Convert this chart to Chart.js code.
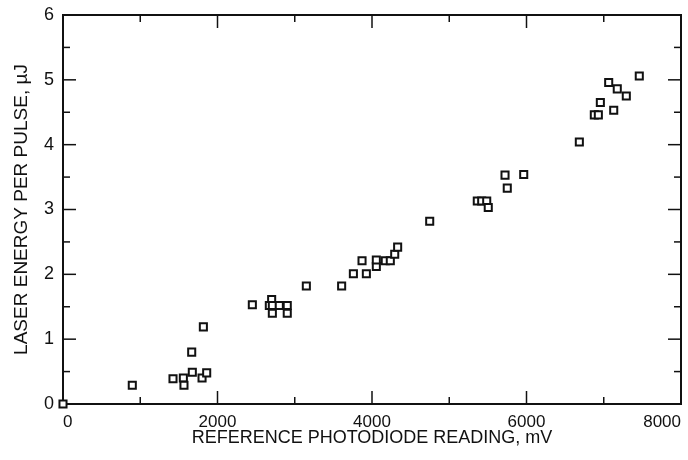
<!DOCTYPE html>
<html>
<head>
<meta charset="utf-8">
<script src="https://cdn.jsdelivr.net/npm/chart.js@4/dist/chart.umd.min.js"></script>
<style>
  html, body { margin: 0; padding: 0; background: #fff; }
  #wrap { width: 688px; height: 460px; position: relative; }
</style>
</head>
<body>
<div id="wrap"><canvas id="c" width="688" height="460"></canvas></div>
<script>
// ---- data ----
const xValues = [0, 897, 1424, 1558, 1566, 1666, 1674, 1800, 1817, 1860,
  2451, 2701, 2671, 2710, 2800, 2903, 2710, 2903,
  3150, 3607, 3759, 3871, 3927, 4056, 4056, 4172, 4237, 4294, 4332,
  4747, 5363, 5420, 5485, 5505, 5722, 5751, 5964,
  6684, 6878, 6930, 6956, 7129, 7064, 7175, 7292, 7460];
const yValues = [0, 0.29, 0.39, 0.40, 0.29, 0.80, 0.49, 0.40, 1.19, 0.48,
  1.53, 1.61, 1.52, 1.52, 1.52, 1.52, 1.40, 1.40,
  1.82, 1.82, 2.01, 2.21, 2.01, 2.12, 2.22, 2.21, 2.21, 2.31, 2.42,
  2.82, 3.13, 3.13, 3.13, 3.03, 3.53, 3.33, 3.54,
  4.04, 4.46, 4.46, 4.65, 4.53, 4.96, 4.86, 4.75, 5.06];
const xTickLabels = [0, 2000, 4000, 6000, 8000];
const yTickLabels = [0, 1, 2, 3, 4, 5, 6];
const xTitle = 'REFERENCE PHOTODIODE READING, mV';
const yTitle = 'LASER ENERGY PER PULSE, \u00B5J';

const INK = '#111';
const FONT = "'Liberation Sans', Arial, Helvetica, sans-serif";

const points = xValues.map((x, i) => ({ x: x, y: yValues[i] }));

const xMajor = xTickLabels[1] - xTickLabels[0];
const yMajor = yTickLabels[1] - yTickLabels[0];

const framePlugin = {
  id: 'frame',
  beforeDatasetsDraw(chart) {
    const { ctx, chartArea, scales } = chart;
    const { left, right, top, bottom } = chartArea;
    const xs = scales.x, ys = scales.y;
    ctx.save();
    ctx.strokeStyle = INK;
    ctx.lineWidth = 2;
    ctx.strokeRect(left, top, right - left, bottom - top);
    ctx.lineWidth = 1.5;
    const line = (a, b, c, d) => { ctx.beginPath(); ctx.moveTo(a, b); ctx.lineTo(c, d); ctx.stroke(); };
    const xMin = xTickLabels[0], xMax = xTickLabels[xTickLabels.length - 1];
    for (let v = xMin + xMajor / 2; v < xMax; v += xMajor / 2) {
      const px = xs.getPixelForValue(v);
      const len = (Math.abs(v % xMajor) < 1e-6) ? 13 : 7;
      line(px, bottom, px, bottom - len);
      line(px, top, px, top + len);
    }
    const yMin = yTickLabels[0], yMax = yTickLabels[yTickLabels.length - 1];
    for (let v = yMin + yMajor / 2; v < yMax - 1e-9; v += yMajor / 2) {
      const py = ys.getPixelForValue(v);
      const len = (Math.abs(v % yMajor) < 1e-6) ? 13 : 7;
      line(left, py, left + len, py);
      line(right, py, right - len, py);
    }
    ctx.restore();
  }
};

new Chart(document.getElementById('c'), {
  type: 'scatter',
  data: {
    datasets: [{
      data: points,
      pointStyle: 'rect',
      radius: 5,
      hoverRadius: 5,
      borderWidth: 2,
      borderColor: INK,
      backgroundColor: '#fff',
      clip: false
    }]
  },
  options: {
    responsive: false,
    animation: false,
    events: [],
    layout: { padding: { top: 15, right: 7, left: 0, bottom: 0 } },
    plugins: { legend: { display: false }, tooltip: { enabled: false } },
    scales: {
      x: {
        type: 'linear',
        min: xTickLabels[0],
        max: xTickLabels[xTickLabels.length - 1],
        grid: { display: false, drawTicks: false },
        border: { display: false },
        ticks: {
          stepSize: xMajor,
          color: INK,
          padding: 8,
          maxRotation: 0,
          align: 'inner',
          font: { family: FONT, size: 17 },
          callback: (v) => String(v)
        },
        title: {
          display: true,
          text: xTitle,
          color: INK,
          font: { family: FONT, size: 18 },
          padding: { top: 0, bottom: 11 }
        },
        afterFit(s) { s.height = 56; s.paddingLeft = 0; s.paddingRight = 0; }
      },
      y: {
        type: 'linear',
        min: yTickLabels[0],
        max: yTickLabels[yTickLabels.length - 1],
        grid: { display: false, drawTicks: false },
        border: { display: false },
        ticks: {
          stepSize: yMajor,
          color: INK,
          padding: 9,
          font: { family: FONT, size: 18 },
          callback: (v) => String(v)
        },
        title: {
          display: true,
          text: yTitle,
          color: INK,
          font: { family: FONT, size: 19 },
          padding: { top: 10, bottom: 0 }
        },
        afterFit(s) { s.width = 63; s.paddingTop = 0; s.paddingBottom = 0; }
      }
    }
  },
  plugins: [framePlugin]
});
</script>
</body>
</html>
